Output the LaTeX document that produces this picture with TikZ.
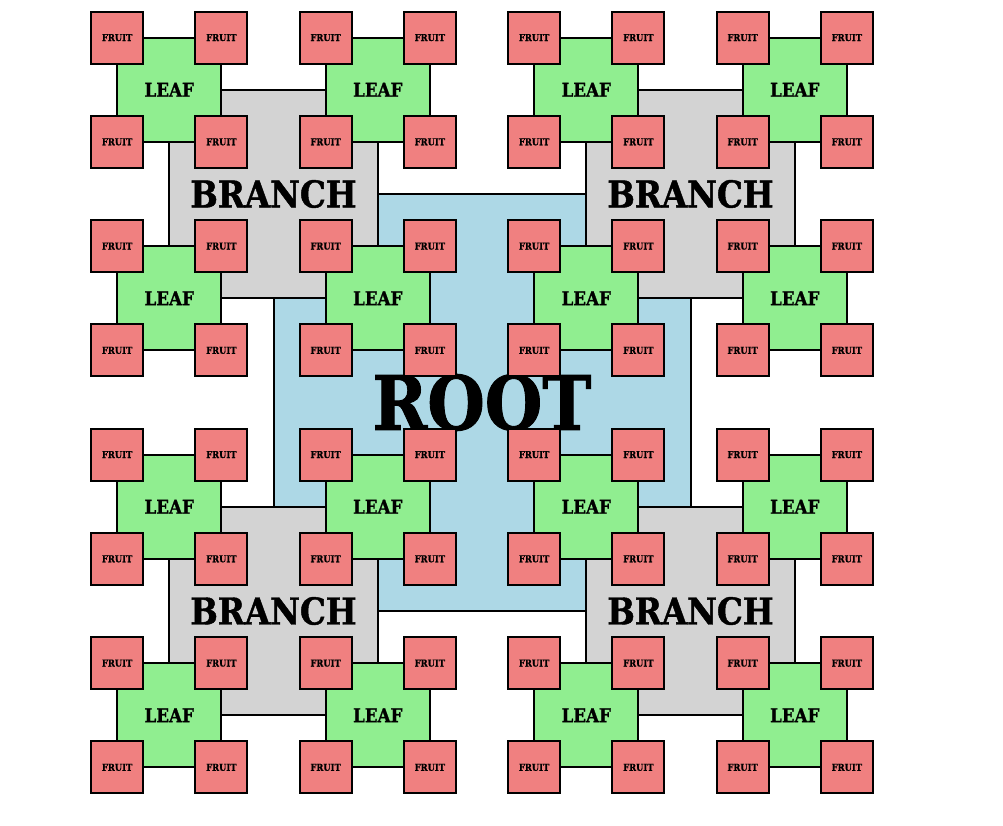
\documentclass[tikz,border=0pt]{standalone}
\usepackage{fontspec}
\newfontfamily\stencilfont{DejaVu Serif}[FakeStretch=0.88,BoldFeatures={FakeBold=1.2}]
\usepackage{tikz}
\usetikzlibrary{positioning}
\definecolor{rootblue}{HTML}{ADD8E6}
\definecolor{branchgray}{HTML}{D3D3D3}
\definecolor{leafgreen}{HTML}{90EE90}
\definecolor{fruitred}{HTML}{F08080}
\tikzset{
  part/.style={rectangle,draw=black,line width=2pt,inner sep=0pt,outer sep=0pt,
    minimum size=#1,text=black},
  rootbox/.style={part=417pt,fill=rootblue,
    font={\stencilfont\bfseries\fontsize{75}{78}\selectfont}},
  branchbox/.style={part=208.5pt,fill=branchgray,
    font={\stencilfont\bfseries\fontsize{37}{40}\selectfont}},
  leafbox/.style={part=104.25pt,fill=leafgreen,
    font={\stencilfont\bfseries\fontsize{19}{20}\selectfont}},
  fruitbox/.style={part=52.1pt,fill=fruitred,
    font={\stencilfont\bfseries\fontsize{9.5}{10}\selectfont}},
}
\begin{document}
\begin{tikzpicture}[x=1pt,y=-1pt]
  \useasboundingbox (0,0) rectangle (1003,826);
  \node[rootbox] (root) at (482,402.5) {ROOT};
  % each level sits on the corners of the one above
  \foreach \c [count=\i] in {north west,north east,south west,south east}
    \node[branchbox] (br\i) at (root.\c) {BRANCH};
  \foreach \i in {1,...,4}
    \foreach \c [count=\j] in {north west,north east,south west,south east}
      \node[leafbox] (lf\i\j) at (br\i.\c) {LEAF};
  \foreach \i in {1,...,4}
    \foreach \j in {1,...,4}
      \foreach \c [count=\k] in {north west,north east,south west,south east}
        \node[fruitbox] (fr\i\j\k) at (lf\i\j.\c) {FRUIT};
\end{tikzpicture}
\end{document}
